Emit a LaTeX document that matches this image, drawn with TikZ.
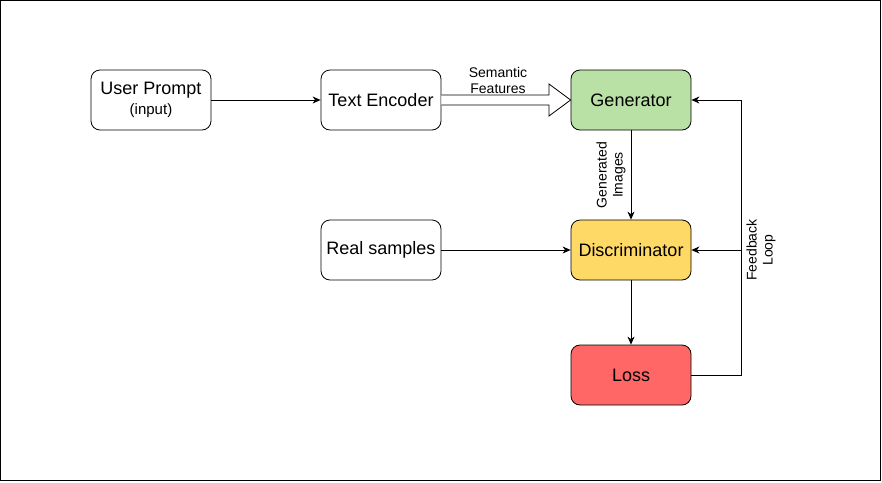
\documentclass[tikz,border=0pt]{standalone}
\usepackage{fontspec}
\setmainfont{Liberation Sans}
\usetikzlibrary{arrows.meta,calc}
\definecolor{gencol}{HTML}{B9E0A5}
\definecolor{discol}{HTML}{FFD966}
\definecolor{losscol}{HTML}{FF6666}
\begin{document}
\begin{tikzpicture}[x=1pt,y=-1pt,
  box/.style={draw=black,line width=0.8pt,rounded corners=9pt,minimum width=120pt,minimum height=60pt,inner sep=0pt,align=center,font=\fontsize{18}{21}\selectfont},
  conn/.style={draw=black,line width=0.8pt,-{Stealth[length=8pt,width=7pt,inset=2.5pt]}},
  plain/.style={draw=black,line width=0.8pt},
  elabel/.style={font=\fontsize{14}{16}\selectfont,align=center,inner sep=0pt}]
\useasboundingbox (0,0) rectangle (882,482);
\draw[line width=0.8pt] (0.8,0.8) rectangle (880.5,480.5);
\node[box] (user) at (151,100) {User Prompt\\[-1pt]{\fontsize{15}{18}\selectfont (input)}};
\node[box] (enc) at (381,100) {Text Encoder};
\node[box,fill=gencol] (gen) at (631,100) {Generator};
\node[box] (real) at (381,250) {Real samples};
\node[box,fill=discol] (dis) at (631,250) {Discriminator};
\node[box,fill=losscol] (loss) at (631,375) {Loss};
\coordinate (fbtop) at (741,100);
\coordinate (fbmid) at (741,250);
\coordinate (fbbot) at (741,375);
\draw[conn] (user) -- (enc);
\draw[conn] (real) -- (dis);
\draw[conn] (gen) -- (dis);
\draw[conn] (dis) -- (loss);
\draw[plain] (loss.east) -- (fbbot) -- (fbtop);
\draw[conn] (fbtop) -- (gen.east);
\draw[conn] (fbmid) -- (dis.east);
% fat arrow
\draw[line width=0.8pt,fill=white,line join=miter]
  ($(enc.east)+(0,-5)$) -- (549,95) -- (549,84) -- (gen.west) -- (549,116) -- (549,105) -- ($(enc.east)+(0,5)$);
\node[elabel] (semlab) at (498,80) {Semantic\\Features};
\node[elabel,rotate=90] (genlab) at (611,175) {Generated\\Images};
\node[elabel,rotate=90] (fblab) at (761,250) {Feedback\\Loop};
\end{tikzpicture}
\end{document}
